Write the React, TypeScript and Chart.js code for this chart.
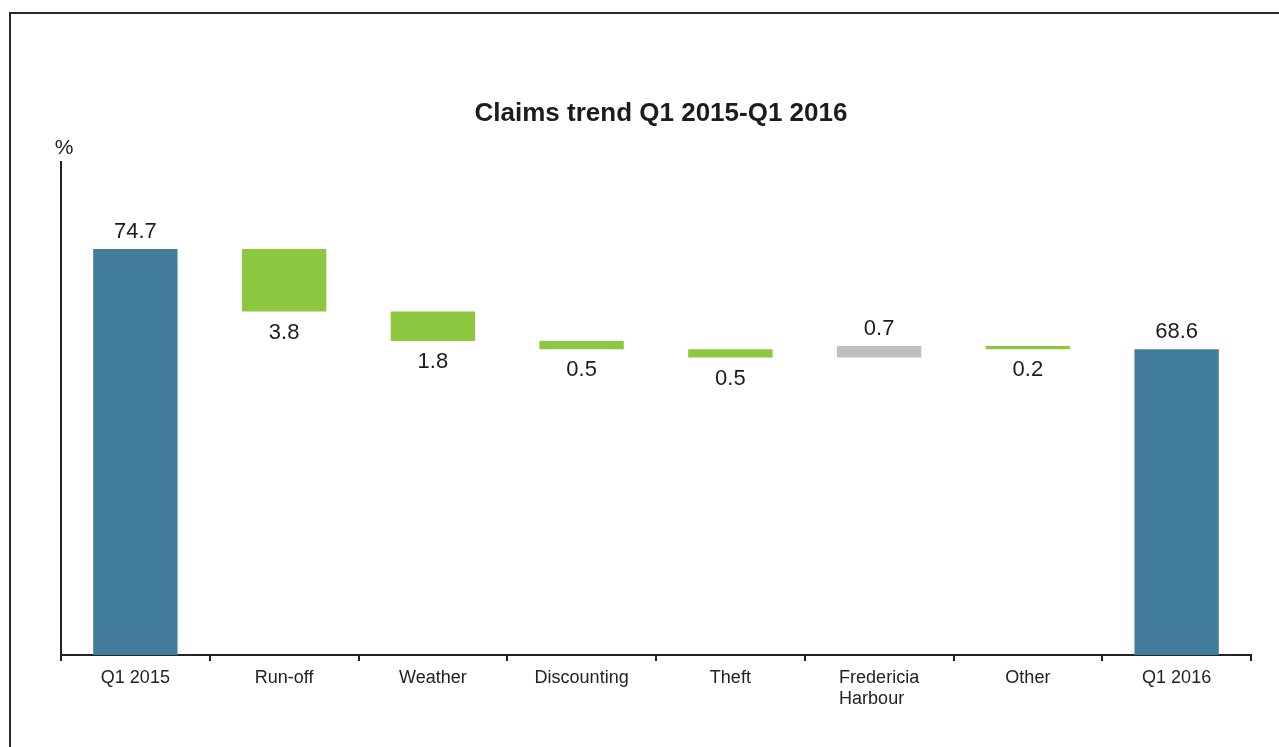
import { useEffect, useRef } from 'react';
import { Chart, registerables } from 'chart.js';

Chart.register(...registerables);

const chartTitle = 'Claims trend Q1 2015-Q1 2016';
const unitLabel = '%';
const categories: (string | string[])[] = [
  'Q1 2015',
  'Run-off',
  'Weather',
  'Discounting',
  'Theft',
  ['Fredericia', 'Harbour\u00A0\u00A0\u00A0'],
  'Other',
  'Q1 2016',
];
const changes = [74.7, -3.8, -1.8, -0.5, -0.5, 0.7, -0.2, 68.6];
const isTotal = [true, false, false, false, false, false, false, true];
const yAxisMin = 50;
const yAxisMax = 80;

const FONT = '"Liberation Sans", Arial, Helvetica, sans-serif';
const BLUE = '#417c9c';
const GREEN = '#8dc63f';
const GREY = '#bebebe';
const INK = '#1c1c1c';

function buildRanges(): [number, number][] {
  const out: [number, number][] = [];
  let running = 0;
  changes.forEach((v, i) => {
    if (isTotal[i]) {
      out.push([yAxisMin, v]);
      running = v;
    } else {
      const next = running + v;
      out.push([running, next]);
      running = next;
    }
  });
  return out;
}

const labelsPlugin = {
  id: 'wfLabels',
  afterDatasetsDraw(chart: any) {
    const ctx = chart.ctx as CanvasRenderingContext2D;
    const meta = chart.getDatasetMeta(0);
    const area = chart.chartArea;
    ctx.save();
    ctx.fillStyle = INK;
    ctx.textAlign = 'center';
    ctx.textBaseline = 'middle';
    ctx.font = `22px ${FONT}`;
    meta.data.forEach((bar: any, i: number) => {
      const v = changes[i];
      const { x, y, base } = bar.getProps(['x', 'y', 'base'], true);
      const top = Math.min(y, base);
      const bottom = Math.max(y, base);
      const txt = Math.abs(v).toFixed(1);
      if (isTotal[i] || v > 0) ctx.fillText(txt, x, top - 17);
      else ctx.fillText(txt, x, bottom + 21);
    });
    ctx.font = `bold 26px ${FONT}`;
    ctx.fillText(chartTitle, (area.left + area.right) / 2 + 5, 114);
    ctx.font = `21px ${FONT}`;
    ctx.fillText(unitLabel, area.left + 3, 148);
    ctx.restore();
  },
};

export default function App() {
  const canvasRef = useRef<HTMLCanvasElement | null>(null);

  useEffect(() => {
    if (!canvasRef.current) return;
    const ranges = buildRanges();
    const colors = changes.map((v, i) => (isTotal[i] ? BLUE : v < 0 ? GREEN : GREY));
    const chart = new Chart(canvasRef.current, {
      type: 'bar',
      data: {
        labels: categories,
        datasets: [
          {
            data: ranges as any,
            backgroundColor: colors,
            borderWidth: 0,
            categoryPercentage: 1,
            barPercentage: 0.567,
            borderSkipped: false,
          },
        ],
      },
      options: {
        animation: false,
        responsive: true,
        maintainAspectRatio: false,
        layout: { padding: { left: 61, top: 162, right: 28, bottom: 0 } },
        plugins: {
          legend: { display: false },
          title: { display: false },
          tooltip: { enabled: false },
        },
        scales: {
          x: {
            offset: true,
            grid: {
              display: true,
              offset: true,
              drawOnChartArea: false,
              drawTicks: true,
              tickLength: 6,
              color: '#222',
              lineWidth: 2,
            },
            border: { display: true, color: '#222', width: 2 },
            ticks: {
              color: '#222',
              font: { family: FONT, size: 18 },
              padding: 6,
              maxRotation: 0,
              autoSkip: false,
            },
            afterFit: (scale: any) => {
              scale.height = 92;
            },
          },
          y: {
            min: yAxisMin,
            max: yAxisMax,
            grid: { display: false },
            border: { display: true, color: '#222', width: 2 },
            ticks: { display: false },
            afterFit: (scale: any) => {
              scale.width = 0;
            },
          },
        },
      },
      plugins: [labelsPlugin],
    });
    return () => chart.destroy();
  }, []);

  return (
    <div style={{ position: 'fixed', left: 0, top: 0, width: 1279, height: 747, background: '#fff' }}>
      <div
        style={{
          position: 'absolute',
          left: 9,
          top: 12,
          right: -10,
          bottom: -10,
          borderTop: '2px solid #2a2a2a',
          borderLeft: '2px solid #2a2a2a',
        }}
      />
      <div style={{ position: 'absolute', left: 0, top: 0, width: 1279, height: 747 }}>
        <canvas ref={canvasRef} />
      </div>
    </div>
  );
}
